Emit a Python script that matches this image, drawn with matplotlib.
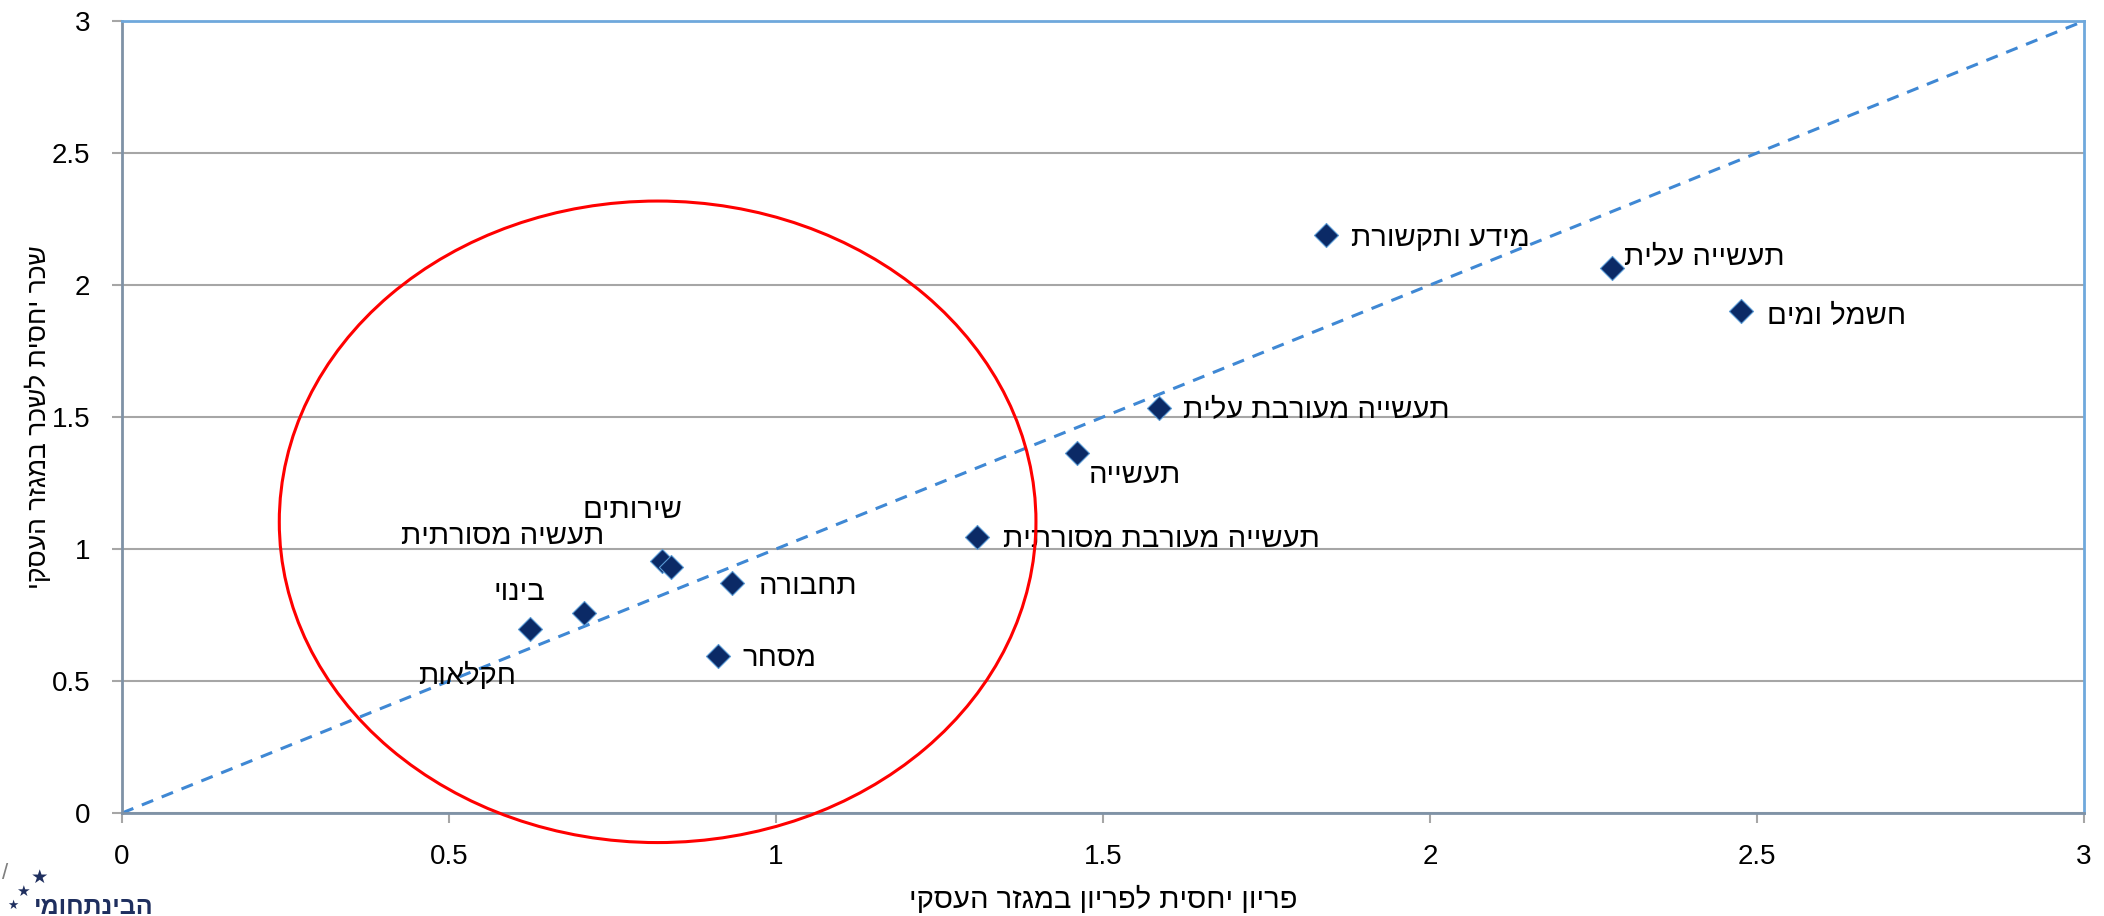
import matplotlib
matplotlib.use("Agg")
import matplotlib.pyplot as plt
from matplotlib.patches import Ellipse

# ענפים: פריון יחסי (x) ושכר יחסי (y)
ענפים = ['מידע ותקשורת', 'תעשייה עלית', 'חשמל ומים', 'תעשייה מעורבת עלית', 'תעשייה',
         'תעשייה מעורבת מסורתית', 'תחבורה', 'מסחר', 'שירותים', 'תעשיה מסורתית',
         'בינוי', 'חקלאות']
פריון = [1.841, 2.278, 2.475, 1.586, 1.461, 1.307, 0.932, 0.911, 0.825, 0.839, 0.706, 0.624]
שכר = [2.19, 2.063, 1.90, 1.533, 1.365, 1.044, 0.871, 0.596, 0.953, 0.932, 0.759, 0.698]

# מיקום התוויות ביחס לנקודה (בנקודות)
היסט = [(18, -2), (9, 8), (19, -3), (17, -1), (8, -16), (19, -1), (20, -2), (18, -2),
        (-21, 37), (-48, 22), (-28, 15), (-10, -34)]
יישור = ['left'] * 8 + ['center', 'right', 'right', 'right']

plt.rcParams['font.family'] = ['Liberation Sans', 'DejaVu Sans']


def heb(s):
    # matplotlib לא תומך בכתיבה מימין לשמאל
    return s[::-1]


fig = plt.figure(figsize=(21.04, 9.16), dpi=100)
ax = fig.add_axes([122 / 2104, 1 - 813 / 916, (2084 - 122) / 2104, (813 - 21) / 916])

ax.set_xlim(0, 3)
ax.set_ylim(0, 3)
ax.set_xticks([0, 0.5, 1, 1.5, 2, 2.5, 3])
ax.set_yticks([0, 0.5, 1, 1.5, 2, 2.5, 3])
ax.set_xticklabels(['0', '0.5', '1', '1.5', '2', '2.5', '3'])
ax.set_yticklabels(['0', '0.5', '1', '1.5', '2', '2.5', '3'])
ax.tick_params(labelsize=20, length=7, width=1.5, color='#a6a6a6')
ax.tick_params(axis='x', pad=15)
ax.tick_params(axis='y', pad=16)
ax.yaxis.grid(True, color='#a6a6a6', linewidth=1.5)
ax.set_axisbelow(True)

for side in ['top', 'right']:
    ax.spines[side].set_color('#6fa8dc')
    ax.spines[side].set_linewidth(2)
for side in ['left', 'bottom']:
    ax.spines[side].set_color('#7f92a6')
    ax.spines[side].set_linewidth(2)

# קו 45 מעלות
ax.plot([0, 3], [0, 3], linestyle=(0, (4, 3)), color='#3f88d4', linewidth=2.2, zorder=2)

ax.scatter(פריון, שכר, marker='D', s=150, color='#0b2a66', edgecolor='#5b9bd5',
           linewidth=0.8, zorder=3)

for name, x, y, off, ha in zip(ענפים, פריון, שכר, היסט, יישור):
    ax.annotate(heb(name), (x, y), xytext=off, textcoords='offset points',
                ha=ha, va='center', fontsize=21, zorder=4)

ell = Ellipse((0.819, 1.103), 1.157, 2.43, fill=False, edgecolor='red', linewidth=2.2,
              clip_on=False, zorder=5)
ax.add_patch(ell)

ax.set_xlabel(heb('פריון יחסית לפריון במגזר העסקי'), fontsize=21, labelpad=12)
ax.set_ylabel(heb('שכר יחסית לשכר במגזר העסקי'), fontsize=19, labelpad=0)

# לוגו
fig.text(0.016, 0.002, heb('הבינתחומי'), fontsize=18, fontweight='bold', color='#1f2f5f')
fig.text(0.019, 0.042, '★', fontsize=14, color='#1f2f5f', family='DejaVu Sans',
         ha='center', va='center')
fig.text(0.011, 0.027, '★', fontsize=11, color='#1f2f5f', family='DejaVu Sans',
         ha='center', va='center')
fig.text(0.006, 0.011, '★', fontsize=9, color='#1f2f5f', family='DejaVu Sans',
         ha='center', va='center')
fig.text(0.001, 0.046, '/', fontsize=16, color='#7f7f7f', ha='left', va='center')

fig.savefig('out.png', dpi=100)
